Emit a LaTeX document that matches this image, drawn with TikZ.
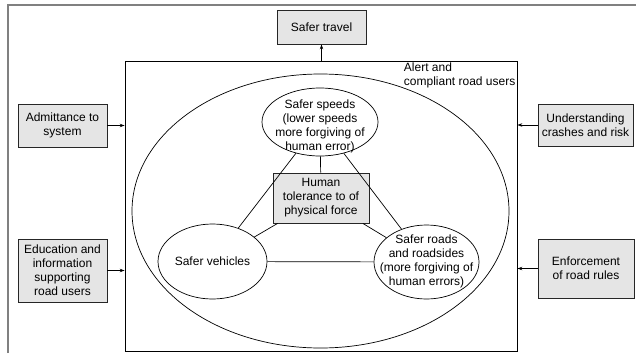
\documentclass[tikz,border=0pt]{standalone}
\usepackage{fontspec}
\setmainfont{Liberation Sans}
\usetikzlibrary{shapes.geometric,arrows.meta}
\begin{document}
\begin{tikzpicture}[x=1pt,y=1pt,
  every node/.style={font=\fontsize{12}{14}\selectfont},
  graybox/.style={draw=black!85,fill=black!10,line width=0.8pt,align=center,inner sep=0pt},
  oval/.style={draw=black,ellipse,line width=0.7pt,inner sep=0pt},
  txt/.style={align=center,inner sep=0pt},
  link/.style={draw=black,line width=0.7pt},
  arr/.style={draw=black,line width=0.7pt,-{Stealth[length=5pt,width=3.5pt]}}
]
\useasboundingbox (0,0) rectangle (636,-353);
% outer frame (cropped)
\draw[black!50,line width=1.6pt] (8,-353) -- (8,-5) -- (636,-5);

% inner box
\node[draw=black,line width=0.8pt,minimum width=392pt,minimum height=290pt,inner sep=0pt] (inner) at (321,-206) {};
\node[txt,align=left,anchor=north east] (alert) at (515.5,-63) {Alert and\\compliant road users};

% big ellipse
\node[oval,minimum width=377pt,minimum height=274pt] (big) at (320.5,-211) {};

% top box
\node[graybox,minimum width=89pt,minimum height=34pt] (travel) at (321.5,-27) {Safer travel};
\draw[arr] (inner.north -| travel.south) -- (travel.south);

% inner ellipses
\node[oval,minimum width=116pt,minimum height=68pt] (speeds) at (320,-122) {};
\node[txt] (speedsT) at (320,-126) {Safer speeds\\(lower speeds\\more forgiving of\\human error)};
\node[graybox,minimum width=96pt,minimum height=50pt] (tol) at (321,-198) {Human\\tolerance to of\\physical force};
\node[oval,minimum width=109pt,minimum height=75pt] (veh) at (212.5,-261.5) {};
\node[txt] (vehT) at (212.5,-261.5) {Safer vehicles};
\node[oval,minimum width=105pt,minimum height=74pt] (roads) at (426.5,-262) {};
\node[txt] (roadsT) at (426.5,-261) {Safer roads\\and roadsides\\(more forgiving of\\human errors)};

\draw[link] (speeds) -- (veh);
\draw[link] (speeds) -- (roads);
\draw[link] (speeds) -- (tol);
\draw[link] (tol) -- (veh);
\draw[link] (tol) -- (roads);
\draw[link] (veh) -- (roads);

% side boxes
\node[graybox,minimum width=89pt,minimum height=43pt] (adm) at (62.5,-125.5) {Admittance to\\system};
\node[graybox,minimum width=89pt,minimum height=63pt] (edu) at (62.5,-270.5) {Education and\\information\\supporting\\road users};
\node[graybox,minimum width=95pt,minimum height=42pt] (und) at (585.5,-125) {Understanding\\crashes and risk};
\node[graybox,minimum width=96pt,minimum height=59pt] (enf) at (586,-268.5) {Enforcement\\of road rules};

\draw[arr] (adm.east) -- (adm.east -| inner.west);
\draw[arr] (edu.east) -- (edu.east -| inner.west);
\draw[arr] (und.west) -- (und.west -| inner.east);
\draw[arr] (enf.west) -- (enf.west -| inner.east);
\end{tikzpicture}
\end{document}
